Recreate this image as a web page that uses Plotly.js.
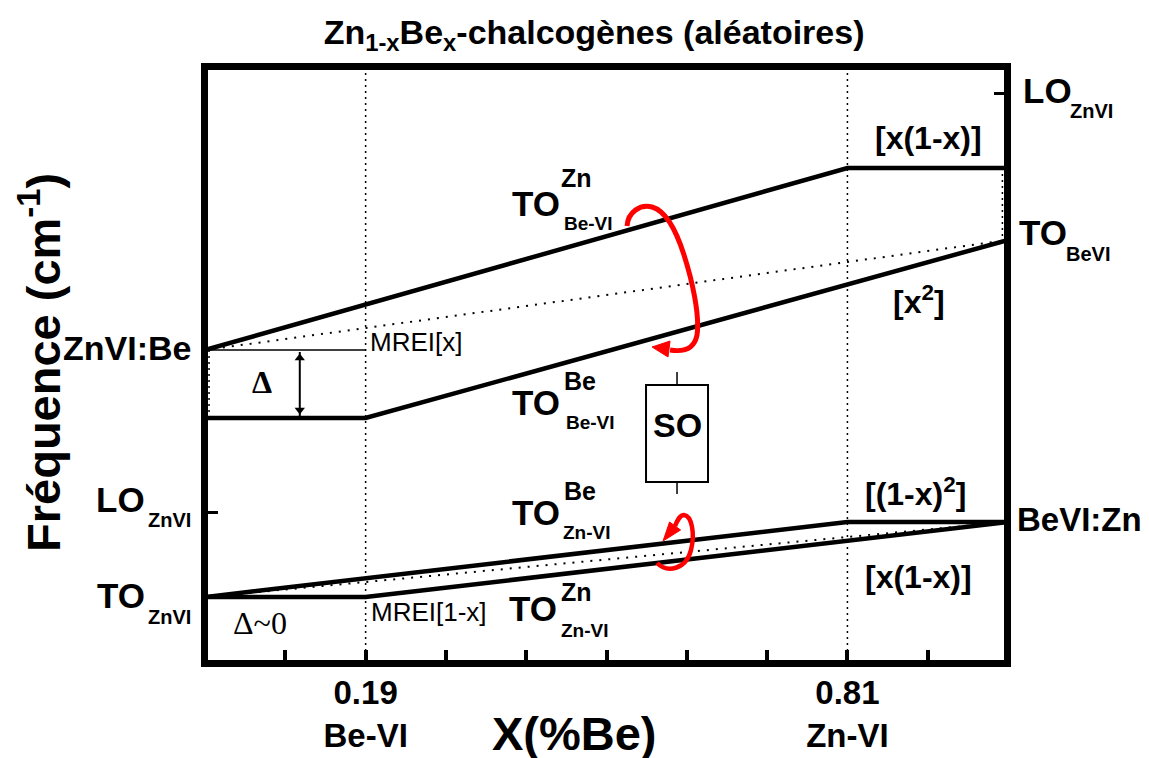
<!DOCTYPE html>
<html><head><meta charset="utf-8">
<script src="https://cdn.plot.ly/plotly-3.0.1.min.js"></script>
<style>html,body{margin:0;padding:0;background:#fff}#chart{width:1149px;height:758px}</style>
</head><body><div id="chart"></div>
<script>
const FONT = 'Liberation Sans, Arial, Helvetica, sans-serif';
const SERIF = 'Liberation Serif, DejaVu Serif, serif';

// ---- composition axis ----
const xMinorTicks = [0.1, 0.2, 0.3, 0.4, 0.5, 0.6, 0.7, 0.8, 0.9];
const xTickVals = [0.2, 0.8];
const xTickText = ['0.19<br>Be-VI', '0.81<br>Zn-VI'];
const xThresholds = [0.2, 0.8];

// ---- frequency branches (arbitrary units) ----
const beUpperX = [0, 0.8, 1],  beUpperY = [313, 495, 495];   // TO^Zn_Be-VI
const beLowerX = [0, 0.2, 1],  beLowerY = [245, 245, 423];   // TO^Be_Be-VI
const beMreiX  = [0, 1],       beMreiY  = [313, 423];        // MREI[x]
const znUpperX = [0, 0.8, 1],  znUpperY = [66, 141, 141];    // TO^Be_Zn-VI
const znLowerX = [0, 0.2, 1],  znLowerY = [66, 66, 141];     // TO^Zn_Zn-VI
const znMreiX  = [0, 1],       znMreiY  = [66, 141];         // MREI[1-x]
const mreiRefX = [0, 0.2],     mreiRefY = [313, 313];
const leftGapX = [0.005, 0.005], leftGapY = [313, 245];
const rightGapX = [0.993, 0.993], rightGapY = [495, 423];
const loLeftTick = [151], loRightTick = [570];
const deltaX = 0.118, deltaY = [311, 247], deltaHeadY = [305, 253];

// ---- SO box and rotation arrows ----
const soBoxX = [0.5492, 0.6264], soBoxY = [181, 278], soStubX = 0.5878, soStubTop = [278, 291], soStubBot = [169, 181];
const arrowUpPts = [[0.5255,437],[0.5268,451],[0.5417,459],[0.5567,456],[0.5741,452],[0.5866,433],[0.5965,408],
                    [0.6065,383],[0.6164,348],[0.6127,328],[0.6090,313],[0.5953,311],[0.5791,313]];
const arrowUpHead = [[0.5567,316],[0.5791,322],[0.5766,306]];
const arrowLoPts = [[0.5629,100],[0.5753,90],[0.5990,93],[0.6052,113],[0.6102,129],[0.6065,147],[0.5965,148],
                    [0.5915,148],[0.5890,144],[0.5853,137]];
const arrowLoHead = [[0.5704,122],[0.5922,133],[0.5785,141]];

const traces = [];
function addLine(x, y, style, yaxis) {
  traces.push({type:'scatter', mode:'lines', x:x, y:y, line:style, hoverinfo:'skip', showlegend:false, yaxis: yaxis || 'y'});
}
const solid = {color:'#000', width:4.5};
const dotted = {color:'#000', width:2, dash:'2px,7px'};
const vdot = {color:'#000', width:1.5, dash:'2px,4px'};

xThresholds.forEach(function(t){ addLine([t, t], [0, 600], vdot); });
addLine(beMreiX, beMreiY, dotted);
addLine(znMreiX, znMreiY, dotted);
addLine(leftGapX, leftGapY, vdot);
addLine(rightGapX, rightGapY, vdot, 'y2');
addLine(mreiRefX, mreiRefY, {color:'#000', width:1.5});
addLine(beUpperX, beUpperY, solid);
addLine(beLowerX, beLowerY, solid);
addLine(znUpperX, znUpperY, solid);
addLine(znLowerX, znLowerY, solid);
// Δ double arrow
addLine([deltaX, deltaX], deltaY, {color:'#000', width:2});
traces.push({type:'scatter', mode:'markers', x:[deltaX, deltaX], y:deltaHeadY, hoverinfo:'skip', showlegend:false,
  marker:{symbol:['triangle-up', 'triangle-down'], size:9, color:'#000', line:{width:0}}});

function bezierPath(p) {
  let s = 'M ' + p[0][0] + ',' + p[0][1];
  for (let i = 1; i + 2 < p.length; i += 3) {
    s += ' C ' + p[i][0] + ',' + p[i][1] + ' ' + p[i+1][0] + ',' + p[i+1][1] + ' ' + p[i+2][0] + ',' + p[i+2][1];
  }
  return s;
}
function triPath(p) {
  return 'M ' + p.map(function(q){ return q[0] + ',' + q[1]; }).join(' L ') + ' Z';
}
const RED = '#ff0000';
const shapes = [
  {type:'rect', xref:'x', yref:'y', x0:soBoxX[0], x1:soBoxX[1], y0:soBoxY[0], y1:soBoxY[1], line:{color:'#000', width:2}},
  {type:'line', xref:'x', yref:'y', x0:soStubX, x1:soStubX, y0:soStubTop[0], y1:soStubTop[1], line:{color:'#000', width:1.5}},
  {type:'line', xref:'x', yref:'y', x0:soStubX, x1:soStubX, y0:soStubBot[0], y1:soStubBot[1], line:{color:'#000', width:1.5}},
  {type:'path', xref:'x', yref:'y', path:bezierPath(arrowUpPts), line:{color:RED, width:5}},
  {type:'path', xref:'x', yref:'y', path:triPath(arrowUpHead), fillcolor:RED, line:{color:RED, width:1}},
  {type:'path', xref:'x', yref:'y', path:bezierPath(arrowLoPts), line:{color:RED, width:4.5}},
  {type:'path', xref:'x', yref:'y', path:triPath(arrowLoHead), fillcolor:RED, line:{color:RED, width:1}}
];

function txt(text, x, y, size, opts) {
  const o = Object.assign({text:text, x:x, y:y, xref:'x', yref:'y', showarrow:false, xanchor:'center', yanchor:'middle',
    font:{family:FONT, size:size, color:'#000', weight:'bold'}}, opts || {});
  return o;
}
function ptxt(text, x, y, size, opts) {
  return txt(text, x, y, size, Object.assign({xref:'paper', yref:'paper'}, opts || {}));
}
const annotations = [
  // TO^Zn_Be-VI
  txt('TO', 0.4446, 460, 35, {xanchor:'right'}),
  txt('Zn', 0.4408, 485, 25, {xanchor:'left'}),
  txt('Be-VI', 0.4446, 440, 19, {xanchor:'left'}),
  // TO^Be_Be-VI
  txt('TO', 0.4446, 261, 35, {xanchor:'right'}),
  txt('Be', 0.4446, 282, 25, {xanchor:'left'}),
  txt('Be-VI', 0.4471, 241, 19, {xanchor:'left'}),
  // TO^Be_Zn-VI
  txt('TO', 0.4446, 151, 35, {xanchor:'right'}),
  txt('Be', 0.4446, 172, 25, {xanchor:'left'}),
  txt('Zn-VI', 0.4433, 131, 19, {xanchor:'left'}),
  // TO^Zn_Zn-VI
  txt('TO', 0.4408, 55, 35, {xanchor:'right'}),
  txt('Zn', 0.4408, 71, 25, {xanchor:'left'}),
  txt('Zn-VI', 0.4408, 33, 19, {xanchor:'left'}),
  // weights
  txt('[x(1-x)]', 0.9004, 525, 32),
  txt('[x<sup>2</sup>]', 0.8892, 363, 32),
  txt('[(1-x)<sup>2</sup>]', 0.8842, 171, 32),
  txt('[x(1-x)]', 0.8879, 86, 32),
  // MREI
  txt('MREI[x]', 0.2030, 321, 26, {xanchor:'left', font:{family:FONT, size:26, color:'#000'}}),
  txt('MREI[1-x]', 0.2042, 51, 26, {xanchor:'left', font:{family:FONT, size:26, color:'#000'}}),
  txt('Δ', 0.0710, 281, 32, {font:{family:SERIF, size:32, color:'#000', weight:'bold'}}),
  txt('Δ~0', 0.0685, 40, 32, {font:{family:SERIF, size:32, color:'#000'}}),
  txt('SO', 0.5878, 238, 34),
  // left side labels
  ptxt('ZnVI:Be', -0.0188, 0.5288, 34, {xanchor:'right'}),
  ptxt('LO', -0.0766, 0.2712, 35, {xanchor:'right'}),
  ptxt('ZnVI', -0.0188, 0.2373, 20, {xanchor:'right'}),
  ptxt('TO', -0.0766, 0.1085, 35, {xanchor:'right'}),
  ptxt('ZnVI', -0.0188, 0.0729, 20, {xanchor:'right'}),
  // right side labels
  ptxt('LO', 1.0214, 0.9661, 35, {xanchor:'left'}),
  ptxt('ZnVI', 1.0804, 0.9305, 20, {xanchor:'left'}),
  ptxt('TO', 1.0163, 0.7254, 35, {xanchor:'left'}),
  ptxt('BeVI', 1.0754, 0.6881, 20, {xanchor:'left'}),
  ptxt('BeVI:Zn', 1.0138, 0.2373, 33, {xanchor:'left'}),
  // axis titles
  ptxt('X(%Be)', 0.4598, -0.124, 47),
  ptxt('Fréquence (cm<sup>-1</sup>)', -0.2111, 0.5051, 47, {textangle:-90})
];

const axisLine = {showline:true, linecolor:'#000', linewidth:7, mirror:true, showgrid:false, zeroline:false, fixedrange:true};
const layout = {
  width:1149, height:758,
  margin:{l:208, r:145, t:70, b:98},
  paper_bgcolor:'#fff', plot_bgcolor:'#fff',
  showlegend:false,
  title:{text:'Zn<sub>1-x</sub>Be<sub>x</sub>-chalcogènes (aléatoires)', x:0.485, xref:'paper', xanchor:'center',
         y:0.958, yref:'container', yanchor:'middle', font:{family:FONT, size:34, color:'#000', weight:'bold'}},
  xaxis: Object.assign({}, axisLine, {range:[0.0037, 0.995], ticks:'inside', ticklen:10, tickwidth:4, tickcolor:'#000',
    tickmode:'array', tickvals:xTickVals, ticktext:xTickText, ticklabelstandoff:-3,
    minor:{tickmode:'array', tickvals:xMinorTicks, ticks:'inside', ticklen:10, tickwidth:4, tickcolor:'#000', showgrid:false},
    tickfont:{family:FONT, size:33, color:'#000', weight:'bold'}}),
  yaxis: Object.assign({}, axisLine, {range:[3, 593], ticks:'inside', ticklen:10, tickwidth:3, tickcolor:'#000',
    tickmode:'array', tickvals:loLeftTick, showticklabels:false}),
  yaxis2: {overlaying:'y', side:'right', range:[3, 593], showline:false, showgrid:false, zeroline:false,
    ticks:'inside', ticklen:10, tickwidth:3, tickcolor:'#000', tickmode:'array', tickvals:loRightTick, showticklabels:false, fixedrange:true},
  shapes:shapes,
  annotations:annotations
};
Plotly.newPlot('chart', traces, layout, {staticPlot:true, displayModeBar:false});
</script>
</body></html>
